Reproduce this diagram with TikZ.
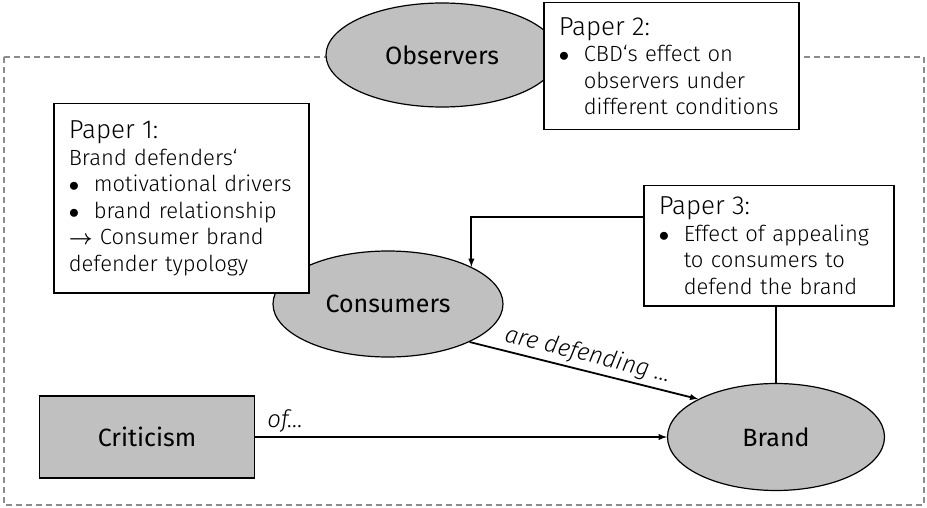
\documentclass[tikz,border=0pt]{standalone}
\usepackage{fontspec}
\setmainfont{Fira Sans Light}[ItalicFont={Fira Sans Light Italic}]
\newfontfamily\ovalfont{Fira Sans}
\usetikzlibrary{shapes.geometric}
\definecolor{ovalgray}{RGB}{192,192,192}
\definecolor{framegray}{RGB}{140,140,140}
\newcommand{\ptitle}[1]{{\fontsize{26}{30}\selectfont #1}}
\newcommand{\pbullet}{\makebox[25pt][l]{$\bullet$}}
\newcommand{\pindent}{\hspace*{25pt}}

\begin{document}
\begin{tikzpicture}[x=1pt,y=-1pt,>=latex,
  oval/.style={ellipse,draw,fill=ovalgray,line width=1.2pt,inner sep=0pt,font=\ovalfont\fontsize{25}{30}\selectfont},
  paper/.style={draw,fill=white,line width=1.5pt,anchor=north west,align=left,inner xsep=15pt,font=\fontsize{22}{26.5}\selectfont},
  link/.style={line width=1.8pt}]
\def\xmin{4}
\def\xmax{924}
\def\ymin{57}
\def\ymax{505}
\useasboundingbox (0,0) rectangle (927,508);

% frame
\draw[framegray,line width=1.5pt,dash pattern=on 6pt off 4pt] (\xmin,\ymin) rectangle (\xmax,\ymax);

\node[oval,minimum width=232pt,minimum height=104pt] (obs) at (442,55) {Observers};
\node[paper,text width=225pt,minimum height=127pt] (p2) at (543,2) {\ptitle{Paper 2:}\\
\pbullet CBD‘s effect on\\
\pindent observers under\\
\pindent different conditions};

\node[oval,minimum width=230pt,minimum height=106pt] (cons) at (388,304) {Consumers};
\node[paper,text width=225pt,minimum height=189pt] (p1) at (53,103) {\ptitle{Paper 1:}\\
Brand defenders‘\\
\pbullet motivational drivers\\
\pbullet brand relationship\\
{\boldmath$\rightarrow$} Consumer brand\\
defender typology};

\node[paper,text width=220pt,minimum height=120pt] (p3) at (643,185) {\ptitle{Paper 3:}\\
\pbullet Effect of appealing\\
\pindent to consumers to\\
\pindent defend the brand};

\node[oval,minimum width=217pt,minimum height=107pt] (brand) at (776,437) {Brand};
\node[draw,fill=ovalgray,line width=1.5pt,minimum width=215pt,minimum height=82pt,font=\ovalfont\fontsize{25}{30}\selectfont] (crit) at (147,437) {Criticism};

% links
\draw[link,->] ([yshift=-32pt]p3.north west) -| (cons.24);
\draw[link] (brand.north |- p3.south) -- (brand.north);
\draw[link,->] (cons.-25) -- (brand.154) node[midway,sloped,above,font=\itshape\fontsize{24}{28}\selectfont] {are defending \ldots};
\draw[link,->] (crit.east) -- (brand.west) node[pos=0,above right,xshift=8pt,font=\itshape\fontsize{24}{28}\selectfont] {of\ldots};
\end{tikzpicture}
\end{document}
